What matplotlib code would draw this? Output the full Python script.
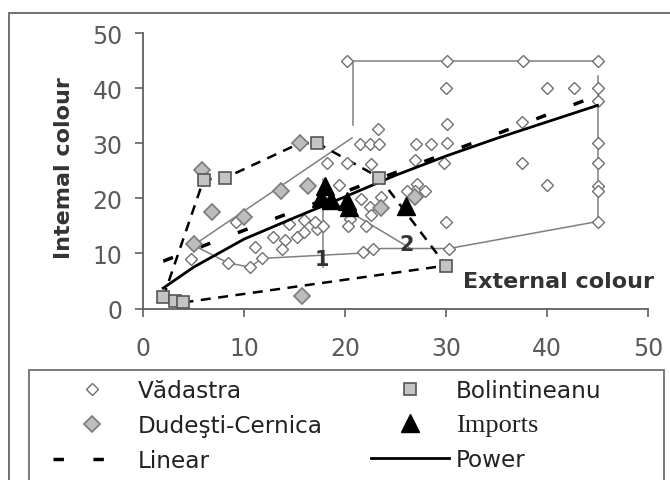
import matplotlib
matplotlib.use("Agg")
import matplotlib.pyplot as plt
from matplotlib.patches import Rectangle

# Vadastra (open diamonds)
vad_x = [4.8, 8.4, 10.6, 11.8, 11.1, 9.2, 12.9, 14.1, 15.2, 13.8, 14.5, 15.9, 17.2, 17.0, 15.9,
         18.2, 20.2, 22.6, 19.4, 21.6, 23.6, 22.5, 22.6, 22.1, 20.5, 20.3, 17.8, 21.8, 22.8,
         21.5, 22.5, 23.4, 23.3, 20.2,
         26.9, 27.0, 28.5, 30.1, 30.1, 29.8, 27.1, 26.9, 27.9, 26.1, 30.0, 30.3,
         30.1, 37.6, 45.0, 30.0, 40.0, 42.7, 45.0, 45.0, 37.5, 45.0, 45.0, 37.5, 40.0,
         45.0, 45.0, 45.0]
vad_y = [9.0, 8.3, 7.5, 9.1, 11.1, 15.8, 13.0, 12.4, 13.0, 10.9, 15.4, 16.0, 14.4, 15.8, 13.9,
         26.4, 26.4, 26.3, 22.5, 19.9, 20.2, 18.4, 16.9, 15.0, 16.3, 15.0, 15.0, 10.2, 10.8,
         29.9, 29.9, 29.9, 32.7, 45.0,
         26.9, 29.9, 29.9, 30.0, 33.6, 26.5, 22.6, 21.4, 21.4, 21.4, 15.8, 10.8,
         45.0, 45.0, 45.0, 40.0, 40.0, 40.0, 40.0, 37.7, 33.9, 30.0, 26.4, 26.4, 22.4,
         22.2, 21.4, 15.8]

# Dudesti-Cernica (grey diamonds)
dud_x = [5.8, 6.8, 5.0, 10.0, 13.7, 15.5, 16.3, 15.7, 23.6, 26.9]
dud_y = [25.2, 17.6, 11.8, 16.7, 21.3, 30.0, 22.2, 2.2, 18.2, 20.3]

# Bolintineanu (grey squares)
bol_x = [2.0, 3.2, 4.0, 6.0, 8.1, 17.2, 23.4, 30.0]
bol_y = [2.0, 1.4, 1.1, 23.4, 23.7, 30.1, 23.8, 7.8]

# Imports (black triangles)
imp_x = [18.0, 17.6, 18.6, 20.2, 20.4, 26.0]
imp_y = [22.3, 20.0, 19.8, 19.6, 18.5, 18.6]

# trend lines
lin_x = [2, 45]
lin_y = [8.6, 38.7]
pow_x = [2, 5, 10, 15, 20, 25, 30, 35, 40, 45]
pow_y = [3.7, 7.5, 12.6, 16.5, 20.3, 24.2, 27.7, 30.9, 33.9, 36.9]

# outline of the Bolintineanu group (dashed)
bol_out_x = [2.0, 6.0, 8.1, 15.5, 17.2, 23.4, 30.0, 4.0]
bol_out_y = [2.0, 23.4, 23.7, 30.0, 30.1, 23.8, 7.8, 1.1]

# thin grey outlines / dividers
outlines = [
    ([20.3, 45.0], [45.0, 45.0]),
    ([20.8, 20.8], [45.0, 33.3]),
    ([45.0, 45.0], [42.3, 15.8]),
    ([5.0, 8.4, 10.6, 11.8, 22.0, 23.5, 30.3, 45.0], [11.5, 8.3, 7.5, 9.1, 10.1, 10.9, 10.9, 15.8]),
    ([5.0, 20.7], [11.5, 31.0]),
    ([17.8, 17.8], [23.5, 7.5]),
    ([17.8, 26.5], [20.5, 10.9]),
]

fig = plt.figure(figsize=(6.7, 4.81), dpi=100)
ax = fig.add_axes([143 / 670, 1 - 309.5 / 481, 505 / 670, 275.2 / 481])

for xs, ys in outlines:
    ax.plot(xs, ys, color='#808080', lw=1.1, zorder=1)

ax.plot(bol_out_x, bol_out_y, color='black', lw=1.8, dashes=(4, 3), zorder=2)

h_vad, = ax.plot(vad_x, vad_y, 'D', ms=5.8, mfc='white', mec='#707070', mew=1.0,
                 ls='none', zorder=3, label='Vădastra', clip_on=False)
h_pow, = ax.plot(pow_x, pow_y, color='black', lw=2.0, zorder=4, label='Power')
h_lin, = ax.plot(lin_x, lin_y, color='black', lw=2.5, dashes=(3, 8.5), zorder=4,
                 label='Linear')
h_dud, = ax.plot(dud_x, dud_y, 'D', ms=8.5, mfc='#bdbdbd', mec='#7a7a7a', mew=1.2,
                 ls='none', zorder=5, label='Dudeşti-Cernica')
h_bol, = ax.plot(bol_x, bol_y, 's', ms=9.2, mfc='#c4c4c4', mec='#555555', mew=1.2,
                 ls='none', zorder=5, label='Bolintineanu')
h_imp, = ax.plot(imp_x, imp_y, '^', ms=12.5, mfc='black', mec='black',
                 ls='none', zorder=6, label='Imports')

ax.set_xlim(0, 50)
ax.set_ylim(0, 50)
ax.set_xticks(range(0, 51, 10))
ax.set_yticks(range(0, 51, 10))
for side in ['top', 'right']:
    ax.spines[side].set_visible(False)
for side in ['left', 'bottom']:
    ax.spines[side].set_color('#606060')
    ax.spines[side].set_linewidth(1.3)
ax.tick_params(length=5.8, width=1.2, color='#606060', labelcolor='#5a5a5a', labelsize=17)
ax.tick_params(axis='x', pad=14)
ax.tick_params(axis='y', pad=9)

ax.text(31.7, 3.9, 'External colour', fontsize=16, fontweight='bold', color='#333333',
        va='baseline', ha='left')
ax.text(17.7, 9.0, '1', fontsize=15, fontweight='bold', color='#333333', ha='center', va='center')
ax.text(26.1, 11.7, '2', fontsize=15, fontweight='bold', color='#333333', ha='center', va='center')

fig.text(64 / 670, 1 - 168 / 481, 'Intemal colour', rotation=90, ha='center', va='center',
         fontsize=16, fontweight='bold', color='#333333')

# frames
fig.patches.append(Rectangle((9 / 670, -0.05), 1.0, 1 - 14 / 481 + 0.05, transform=fig.transFigure,
                             fill=False, ec='#707070', lw=1.4))
fig.patches.append(Rectangle((29 / 670, -0.05), (664 - 29) / 670, 1 - 371 / 481 + 0.05,
                             transform=fig.transFigure, fill=False, ec='#707070', lw=1.3))

leg = fig.legend(handles=[h_vad, h_dud, h_lin, h_bol, h_imp, h_pow], ncol=2,
                 loc='upper left', bbox_to_anchor=(53 / 670, 1 - 380 / 481),
                 frameon=False, borderpad=0, borderaxespad=0, handlelength=3.36,
                 handletextpad=0.3, columnspacing=2.07, labelspacing=0.52,
                 prop={'size': 16.7})
for t in leg.get_texts():
    t.set_color('#222222')
    if t.get_text() == 'Imports':
        t.set_fontfamily('Liberation Serif')
        t.set_fontsize(19)

fig.savefig('out.png', dpi=100)
